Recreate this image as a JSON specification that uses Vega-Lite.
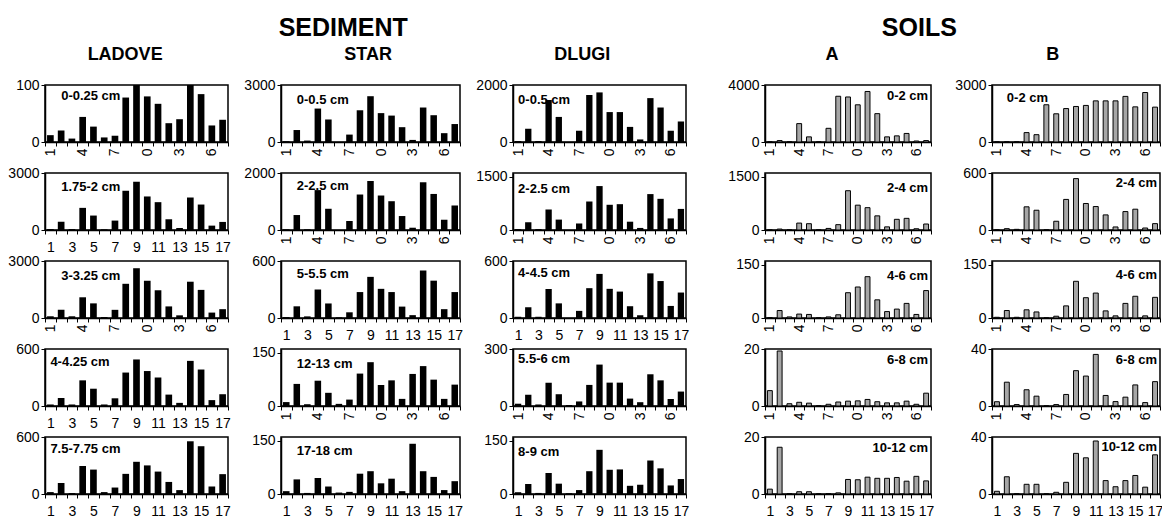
{
"$schema": "https://vega.github.io/schema/vega-lite/v6.json",
"background": "white",
"padding": {"left": 7, "top": 16, "right": 0, "bottom": 0},
"data": {"name": "bars"},
"datasets": {"bars": [
{"panel":"L1","n":1,"value":12},{"panel":"L1","n":2,"value":20},{"panel":"L1","n":3,"value":6},{"panel":"L1","n":4,"value":44},{"panel":"L1","n":5,"value":27},{"panel":"L1","n":6,"value":8},{"panel":"L1","n":7,"value":11},{"panel":"L1","n":8,"value":78},{"panel":"L1","n":9,"value":100},{"panel":"L1","n":10,"value":80},{"panel":"L1","n":11,"value":67},{"panel":"L1","n":12,"value":33},{"panel":"L1","n":13,"value":40},{"panel":"L1","n":14,"value":100},{"panel":"L1","n":15,"value":84},{"panel":"L1","n":16,"value":29},{"panel":"L1","n":17,"value":39},
{"panel":"L2","n":1,"value":50},{"panel":"L2","n":2,"value":440},{"panel":"L2","n":3,"value":50},{"panel":"L2","n":4,"value":1165},{"panel":"L2","n":5,"value":760},{"panel":"L2","n":6,"value":35},{"panel":"L2","n":7,"value":495},{"panel":"L2","n":8,"value":2065},{"panel":"L2","n":9,"value":2540},{"panel":"L2","n":10,"value":1765},{"panel":"L2","n":11,"value":1465},{"panel":"L2","n":12,"value":565},{"panel":"L2","n":13,"value":105},{"panel":"L2","n":14,"value":1710},{"panel":"L2","n":15,"value":1340},{"panel":"L2","n":16,"value":230},{"panel":"L2","n":17,"value":425},
{"panel":"L3","n":1,"value":90},{"panel":"L3","n":2,"value":430},{"panel":"L3","n":3,"value":90},{"panel":"L3","n":4,"value":1090},{"panel":"L3","n":5,"value":770},{"panel":"L3","n":6,"value":50},{"panel":"L3","n":7,"value":430},{"panel":"L3","n":8,"value":1800},{"panel":"L3","n":9,"value":2620},{"panel":"L3","n":10,"value":1960},{"panel":"L3","n":11,"value":1460},{"panel":"L3","n":12,"value":610},{"panel":"L3","n":13,"value":140},{"panel":"L3","n":14,"value":1910},{"panel":"L3","n":15,"value":1480},{"panel":"L3","n":16,"value":285},{"panel":"L3","n":17,"value":465},
{"panel":"L4","n":1,"value":16},{"panel":"L4","n":2,"value":85},{"panel":"L4","n":3,"value":16},{"panel":"L4","n":4,"value":270},{"panel":"L4","n":5,"value":182},{"panel":"L4","n":6,"value":16},{"panel":"L4","n":7,"value":81},{"panel":"L4","n":8,"value":352},{"panel":"L4","n":9,"value":490},{"panel":"L4","n":10,"value":368},{"panel":"L4","n":11,"value":300},{"panel":"L4","n":12,"value":120},{"panel":"L4","n":13,"value":33},{"panel":"L4","n":14,"value":475},{"panel":"L4","n":15,"value":384},{"panel":"L4","n":16,"value":62},{"panel":"L4","n":17,"value":124},
{"panel":"L5","n":1,"value":20},{"panel":"L5","n":2,"value":116},{"panel":"L5","n":3,"value":10},{"panel":"L5","n":4,"value":295},{"panel":"L5","n":5,"value":257},{"panel":"L5","n":6,"value":20},{"panel":"L5","n":7,"value":68},{"panel":"L5","n":8,"value":212},{"panel":"L5","n":9,"value":339},{"panel":"L5","n":10,"value":301},{"panel":"L5","n":11,"value":236},{"panel":"L5","n":12,"value":127},{"panel":"L5","n":13,"value":41},{"panel":"L5","n":14,"value":555},{"panel":"L5","n":15,"value":503},{"panel":"L5","n":16,"value":79},{"panel":"L5","n":17,"value":209},
{"panel":"S1","n":1,"value":40},{"panel":"S1","n":2,"value":630},{"panel":"S1","n":3,"value":75},{"panel":"S1","n":4,"value":1760},{"panel":"S1","n":5,"value":1185},{"panel":"S1","n":6,"value":0},{"panel":"S1","n":7,"value":390},{"panel":"S1","n":8,"value":1670},{"panel":"S1","n":9,"value":2410},{"panel":"S1","n":10,"value":1520},{"panel":"S1","n":11,"value":1390},{"panel":"S1","n":12,"value":780},{"panel":"S1","n":13,"value":110},{"panel":"S1","n":14,"value":1815},{"panel":"S1","n":15,"value":1410},{"panel":"S1","n":16,"value":465},{"panel":"S1","n":17,"value":945},
{"panel":"S2","n":1,"value":25},{"panel":"S2","n":2,"value":525},{"panel":"S2","n":3,"value":25},{"panel":"S2","n":4,"value":1400},{"panel":"S2","n":5,"value":745},{"panel":"S2","n":6,"value":0},{"panel":"S2","n":7,"value":315},{"panel":"S2","n":8,"value":1245},{"panel":"S2","n":9,"value":1720},{"panel":"S2","n":10,"value":1210},{"panel":"S2","n":11,"value":1010},{"panel":"S2","n":12,"value":490},{"panel":"S2","n":13,"value":80},{"panel":"S2","n":14,"value":1675},{"panel":"S2","n":15,"value":1265},{"panel":"S2","n":16,"value":360},{"panel":"S2","n":17,"value":860},
{"panel":"S3","n":1,"value":10},{"panel":"S3","n":2,"value":123},{"panel":"S3","n":3,"value":17},{"panel":"S3","n":4,"value":300},{"panel":"S3","n":5,"value":153},{"panel":"S3","n":6,"value":7},{"panel":"S3","n":7,"value":60},{"panel":"S3","n":8,"value":273},{"panel":"S3","n":9,"value":433},{"panel":"S3","n":10,"value":307},{"panel":"S3","n":11,"value":273},{"panel":"S3","n":12,"value":120},{"panel":"S3","n":13,"value":30},{"panel":"S3","n":14,"value":500},{"panel":"S3","n":15,"value":393},{"panel":"S3","n":16,"value":93},{"panel":"S3","n":17,"value":273},
{"panel":"S4","n":1,"value":11},{"panel":"S4","n":2,"value":62},{"panel":"S4","n":3,"value":5},{"panel":"S4","n":4,"value":71},{"panel":"S4","n":5,"value":37},{"panel":"S4","n":6,"value":6},{"panel":"S4","n":7,"value":18},{"panel":"S4","n":8,"value":91},{"panel":"S4","n":9,"value":123},{"panel":"S4","n":10,"value":59},{"panel":"S4","n":11,"value":72},{"panel":"S4","n":12,"value":20},{"panel":"S4","n":13,"value":90},{"panel":"S4","n":14,"value":112},{"panel":"S4","n":15,"value":74},{"panel":"S4","n":16,"value":20},{"panel":"S4","n":17,"value":60},
{"panel":"S5","n":1,"value":8},{"panel":"S5","n":2,"value":41},{"panel":"S5","n":3,"value":3},{"panel":"S5","n":4,"value":45},{"panel":"S5","n":5,"value":21},{"panel":"S5","n":6,"value":4},{"panel":"S5","n":7,"value":6},{"panel":"S5","n":8,"value":57},{"panel":"S5","n":9,"value":64},{"panel":"S5","n":10,"value":30},{"panel":"S5","n":11,"value":43},{"panel":"S5","n":12,"value":8},{"panel":"S5","n":13,"value":141},{"panel":"S5","n":14,"value":64},{"panel":"S5","n":15,"value":48},{"panel":"S5","n":16,"value":11},{"panel":"S5","n":17,"value":36},
{"panel":"D1","n":1,"value":35},{"panel":"D1","n":2,"value":465},{"panel":"D1","n":3,"value":35},{"panel":"D1","n":4,"value":1470},{"panel":"D1","n":5,"value":880},{"panel":"D1","n":6,"value":0},{"panel":"D1","n":7,"value":395},{"panel":"D1","n":8,"value":1650},{"panel":"D1","n":9,"value":1740},{"panel":"D1","n":10,"value":1050},{"panel":"D1","n":11,"value":1050},{"panel":"D1","n":12,"value":530},{"panel":"D1","n":13,"value":90},{"panel":"D1","n":14,"value":1540},{"panel":"D1","n":15,"value":1210},{"panel":"D1","n":16,"value":395},{"panel":"D1","n":17,"value":720},
{"panel":"D2","n":1,"value":25},{"panel":"D2","n":2,"value":217},{"panel":"D2","n":3,"value":25},{"panel":"D2","n":4,"value":575},{"panel":"D2","n":5,"value":292},{"panel":"D2","n":6,"value":0},{"panel":"D2","n":7,"value":183},{"panel":"D2","n":8,"value":800},{"panel":"D2","n":9,"value":1233},{"panel":"D2","n":10,"value":708},{"panel":"D2","n":11,"value":725},{"panel":"D2","n":12,"value":233},{"panel":"D2","n":13,"value":58},{"panel":"D2","n":14,"value":1008},{"panel":"D2","n":15,"value":875},{"panel":"D2","n":16,"value":325},{"panel":"D2","n":17,"value":592},
{"panel":"D3","n":1,"value":13},{"panel":"D3","n":2,"value":114},{"panel":"D3","n":3,"value":13},{"panel":"D3","n":4,"value":304},{"panel":"D3","n":5,"value":154},{"panel":"D3","n":6,"value":0},{"panel":"D3","n":7,"value":75},{"panel":"D3","n":8,"value":314},{"panel":"D3","n":9,"value":464},{"panel":"D3","n":10,"value":307},{"panel":"D3","n":11,"value":278},{"panel":"D3","n":12,"value":124},{"panel":"D3","n":13,"value":29},{"panel":"D3","n":14,"value":470},{"panel":"D3","n":15,"value":389},{"panel":"D3","n":16,"value":127},{"panel":"D3","n":17,"value":268},
{"panel":"D4","n":1,"value":12},{"panel":"D4","n":2,"value":59},{"panel":"D4","n":3,"value":8},{"panel":"D4","n":4,"value":123},{"panel":"D4","n":5,"value":62},{"panel":"D4","n":6,"value":5},{"panel":"D4","n":7,"value":24},{"panel":"D4","n":8,"value":111},{"panel":"D4","n":9,"value":218},{"panel":"D4","n":10,"value":123},{"panel":"D4","n":11,"value":123},{"panel":"D4","n":12,"value":39},{"panel":"D4","n":13,"value":20},{"panel":"D4","n":14,"value":167},{"panel":"D4","n":15,"value":135},{"panel":"D4","n":16,"value":37},{"panel":"D4","n":17,"value":76},
{"panel":"D5","n":1,"value":5},{"panel":"D5","n":2,"value":28},{"panel":"D5","n":3,"value":3},{"panel":"D5","n":4,"value":59},{"panel":"D5","n":5,"value":29},{"panel":"D5","n":6,"value":2},{"panel":"D5","n":7,"value":11},{"panel":"D5","n":8,"value":64},{"panel":"D5","n":9,"value":124},{"panel":"D5","n":10,"value":68},{"panel":"D5","n":11,"value":69},{"panel":"D5","n":12,"value":23},{"panel":"D5","n":13,"value":26},{"panel":"D5","n":14,"value":94},{"panel":"D5","n":15,"value":72},{"panel":"D5","n":16,"value":24},{"panel":"D5","n":17,"value":42},
{"panel":"A1","n":1,"value":0},{"panel":"A1","n":2,"value":100},{"panel":"A1","n":3,"value":0},{"panel":"A1","n":4,"value":1290},{"panel":"A1","n":5,"value":360},{"panel":"A1","n":6,"value":0},{"panel":"A1","n":7,"value":960},{"panel":"A1","n":8,"value":3210},{"panel":"A1","n":9,"value":3160},{"panel":"A1","n":10,"value":2610},{"panel":"A1","n":11,"value":3545},{"panel":"A1","n":12,"value":1990},{"panel":"A1","n":13,"value":360},{"panel":"A1","n":14,"value":430},{"panel":"A1","n":15,"value":600},{"panel":"A1","n":16,"value":70},{"panel":"A1","n":17,"value":100},
{"panel":"A2","n":1,"value":0},{"panel":"A2","n":2,"value":26},{"panel":"A2","n":3,"value":0},{"panel":"A2","n":4,"value":194},{"panel":"A2","n":5,"value":177},{"panel":"A2","n":6,"value":0},{"panel":"A2","n":7,"value":44},{"panel":"A2","n":8,"value":150},{"panel":"A2","n":9,"value":1103},{"panel":"A2","n":10,"value":697},{"panel":"A2","n":11,"value":627},{"panel":"A2","n":12,"value":397},{"panel":"A2","n":13,"value":88},{"panel":"A2","n":14,"value":300},{"panel":"A2","n":15,"value":327},{"panel":"A2","n":16,"value":35},{"panel":"A2","n":17,"value":168},
{"panel":"A3","n":1,"value":1},{"panel":"A3","n":2,"value":21},{"panel":"A3","n":3,"value":3},{"panel":"A3","n":4,"value":11},{"panel":"A3","n":5,"value":10},{"panel":"A3","n":6,"value":0},{"panel":"A3","n":7,"value":3},{"panel":"A3","n":8,"value":9},{"panel":"A3","n":9,"value":71},{"panel":"A3","n":10,"value":87},{"panel":"A3","n":11,"value":116},{"panel":"A3","n":12,"value":51},{"panel":"A3","n":13,"value":18},{"panel":"A3","n":14,"value":25},{"panel":"A3","n":15,"value":41},{"panel":"A3","n":16,"value":10},{"panel":"A3","n":17,"value":77},
{"panel":"A4","n":1,"value":5.4},{"panel":"A4","n":2,"value":19.3},{"panel":"A4","n":3,"value":0.8},{"panel":"A4","n":4,"value":1.3},{"panel":"A4","n":5,"value":1},{"panel":"A4","n":6,"value":0},{"panel":"A4","n":7,"value":0.6},{"panel":"A4","n":8,"value":1.4},{"panel":"A4","n":9,"value":1.7},{"panel":"A4","n":10,"value":1.8},{"panel":"A4","n":11,"value":2.3},{"panel":"A4","n":12,"value":1.5},{"panel":"A4","n":13,"value":1.1},{"panel":"A4","n":14,"value":1.1},{"panel":"A4","n":15,"value":1.7},{"panel":"A4","n":16,"value":0.6},{"panel":"A4","n":17,"value":4.5},
{"panel":"A5","n":1,"value":1.7},{"panel":"A5","n":2,"value":16.4},{"panel":"A5","n":3,"value":0.1},{"panel":"A5","n":4,"value":0.8},{"panel":"A5","n":5,"value":0.8},{"panel":"A5","n":6,"value":0},{"panel":"A5","n":7,"value":0.1},{"panel":"A5","n":8,"value":0.4},{"panel":"A5","n":9,"value":5.1},{"panel":"A5","n":10,"value":5},{"panel":"A5","n":11,"value":5.9},{"panel":"A5","n":12,"value":5.5},{"panel":"A5","n":13,"value":5.5},{"panel":"A5","n":14,"value":5.8},{"panel":"A5","n":15,"value":4.5},{"panel":"A5","n":16,"value":6.2},{"panel":"A5","n":17,"value":4.6},
{"panel":"B1","n":1,"value":0},{"panel":"B1","n":2,"value":0},{"panel":"B1","n":3,"value":0},{"panel":"B1","n":4,"value":495},{"panel":"B1","n":5,"value":385},{"panel":"B1","n":6,"value":1960},{"panel":"B1","n":7,"value":1485},{"panel":"B1","n":8,"value":1760},{"panel":"B1","n":9,"value":1870},{"panel":"B1","n":10,"value":1925},{"panel":"B1","n":11,"value":2165},{"panel":"B1","n":12,"value":2165},{"panel":"B1","n":13,"value":2165},{"panel":"B1","n":14,"value":2400},{"panel":"B1","n":15,"value":1850},{"panel":"B1","n":16,"value":2605},{"panel":"B1","n":17,"value":1835},
{"panel":"B2","n":1,"value":0},{"panel":"B2","n":2,"value":14},{"panel":"B2","n":3,"value":7},{"panel":"B2","n":4,"value":244},{"panel":"B2","n":5,"value":208},{"panel":"B2","n":6,"value":0},{"panel":"B2","n":7,"value":92},{"panel":"B2","n":8,"value":322},{"panel":"B2","n":9,"value":541},{"panel":"B2","n":10,"value":279},{"panel":"B2","n":11,"value":247},{"panel":"B2","n":12,"value":159},{"panel":"B2","n":13,"value":32},{"panel":"B2","n":14,"value":194},{"panel":"B2","n":15,"value":219},{"panel":"B2","n":16,"value":21},{"panel":"B2","n":17,"value":67},
{"panel":"B3","n":1,"value":2},{"panel":"B3","n":2,"value":21},{"panel":"B3","n":3,"value":2},{"panel":"B3","n":4,"value":23},{"panel":"B3","n":5,"value":17},{"panel":"B3","n":6,"value":0},{"panel":"B3","n":7,"value":5},{"panel":"B3","n":8,"value":34},{"panel":"B3","n":9,"value":103},{"panel":"B3","n":10,"value":57},{"panel":"B3","n":11,"value":70},{"panel":"B3","n":12,"value":20},{"panel":"B3","n":13,"value":6},{"panel":"B3","n":14,"value":41},{"panel":"B3","n":15,"value":61},{"panel":"B3","n":16,"value":6},{"panel":"B3","n":17,"value":58},
{"panel":"B4","n":1,"value":3},{"panel":"B4","n":2,"value":16.7},{"panel":"B4","n":3,"value":1},{"panel":"B4","n":4,"value":11.4},{"panel":"B4","n":5,"value":6.9},{"panel":"B4","n":6,"value":0},{"panel":"B4","n":7,"value":1},{"panel":"B4","n":8,"value":8.1},{"panel":"B4","n":9,"value":24.8},{"panel":"B4","n":10,"value":21},{"panel":"B4","n":11,"value":36.2},{"panel":"B4","n":12,"value":7.4},{"panel":"B4","n":13,"value":3.1},{"panel":"B4","n":14,"value":6.2},{"panel":"B4","n":15,"value":14.8},{"panel":"B4","n":16,"value":2.4},{"panel":"B4","n":17,"value":17.1},
{"panel":"B5","n":1,"value":1.9},{"panel":"B5","n":2,"value":12.1},{"panel":"B5","n":3,"value":0.2},{"panel":"B5","n":4,"value":6.8},{"panel":"B5","n":5,"value":6.8},{"panel":"B5","n":6,"value":0},{"panel":"B5","n":7,"value":1.2},{"panel":"B5","n":8,"value":8.2},{"panel":"B5","n":9,"value":28.5},{"panel":"B5","n":10,"value":25.4},{"panel":"B5","n":11,"value":37.2},{"panel":"B5","n":12,"value":9.4},{"panel":"B5","n":13,"value":5.1},{"panel":"B5","n":14,"value":9.4},{"panel":"B5","n":15,"value":13},{"panel":"B5","n":16,"value":4.8},{"panel":"B5","n":17,"value":27.5}
]},
"spacing": 37,
"hconcat": [
{"title": {"text": "SEDIMENT", "fontSize": 25, "fontWeight": "bold", "anchor": "middle", "offset": 5, "dx": -5, "color": "black"},
 "spacing": 11,
 "hconcat": [
 {"title": {"text": "LADOVE", "fontSize": 18, "fontWeight": "bold", "anchor": "middle", "offset": 13, "dx": 6, "color": "black"},
  "bounds": "flush",
  "spacing": 31,
  "vconcat": [
   {"width": 183, "height": 57, "transform": [{"filter": "datum.panel == 'L1'"}], "layer": [
     {"mark": {"type": "bar", "fill": "black", "width": {"band": 0.62}}, "encoding": {
       "x": {"field": "n", "type": "ordinal", "title": null, "axis": {"tickBand": "extent", "labelAngle": -90, "labelPadding": 2, "labelExpr": "indexof([1,4,7,10,13,16], datum.value) >= 0 ? slice(datum.label, -1) : ''"}},
       "y": {"field": "value", "type": "quantitative", "title": null, "scale": {"domain": [0, 100]}, "axis": {"values": [0, 50, 100]}}}},
     {"transform": [{"filter": "datum.n == 1"}], "mark": {"type": "text", "align": "left", "baseline": "middle", "fontWeight": "bold", "fontSize": 13, "text": "0-0.25 cm"},
      "encoding": {"x": {"datum": 2, "type": "ordinal", "title": null}, "y": {"datum": 80, "type": "quantitative", "title": null}}}]},
   {"width": 183, "height": 57, "transform": [{"filter": "datum.panel == 'L2'"}], "layer": [
     {"mark": {"type": "bar", "fill": "black", "width": {"band": 0.62}}, "encoding": {
       "x": {"field": "n", "type": "ordinal", "title": null, "axis": {"tickBand": "extent", "labelAngle": 0, "labelPadding": 6, "labelExpr": "datum.value % 2 == 1 ? datum.label : ''"}},
       "y": {"field": "value", "type": "quantitative", "title": null, "scale": {"domain": [0, 3000]}, "axis": {"values": [0, 1000, 2000, 3000]}}}},
     {"transform": [{"filter": "datum.n == 1"}], "mark": {"type": "text", "align": "left", "baseline": "middle", "fontWeight": "bold", "fontSize": 13, "text": "1.75-2 cm"},
      "encoding": {"x": {"datum": 2, "type": "ordinal", "title": null}, "y": {"datum": 2250, "type": "quantitative", "title": null}}}]},
   {"width": 183, "height": 57, "transform": [{"filter": "datum.panel == 'L3'"}], "layer": [
     {"mark": {"type": "bar", "fill": "black", "width": {"band": 0.62}}, "encoding": {
       "x": {"field": "n", "type": "ordinal", "title": null, "axis": {"tickBand": "extent", "labelAngle": -90, "labelPadding": 2, "labelExpr": "indexof([1,4,7,10,13,16], datum.value) >= 0 ? slice(datum.label, -1) : ''"}},
       "y": {"field": "value", "type": "quantitative", "title": null, "scale": {"domain": [0, 3000]}, "axis": {"values": [0, 1000, 2000, 3000]}}}},
     {"transform": [{"filter": "datum.n == 1"}], "mark": {"type": "text", "align": "left", "baseline": "middle", "fontWeight": "bold", "fontSize": 13, "text": "3-3.25 cm"},
      "encoding": {"x": {"datum": 2, "type": "ordinal", "title": null}, "y": {"datum": 2200, "type": "quantitative", "title": null}}}]},
   {"width": 183, "height": 57, "transform": [{"filter": "datum.panel == 'L4'"}], "layer": [
     {"mark": {"type": "bar", "fill": "black", "width": {"band": 0.62}}, "encoding": {
       "x": {"field": "n", "type": "ordinal", "title": null, "axis": {"tickBand": "extent", "labelAngle": 0, "labelPadding": 6, "labelExpr": "datum.value % 2 == 1 ? datum.label : ''"}},
       "y": {"field": "value", "type": "quantitative", "title": null, "scale": {"domain": [0, 600]}, "axis": {"values": [0, 200, 400, 600]}}}},
     {"transform": [{"filter": "datum.n == 1"}], "mark": {"type": "text", "align": "left", "baseline": "middle", "fontWeight": "bold", "fontSize": 13, "text": "4-4.25 cm"},
      "encoding": {"x": {"datum": 1, "type": "ordinal", "title": null}, "y": {"datum": 460, "type": "quantitative", "title": null}}}]},
   {"width": 183, "height": 57, "transform": [{"filter": "datum.panel == 'L5'"}], "layer": [
     {"mark": {"type": "bar", "fill": "black", "width": {"band": 0.62}}, "encoding": {
       "x": {"field": "n", "type": "ordinal", "title": null, "axis": {"tickBand": "extent", "labelAngle": 0, "labelPadding": 6, "labelExpr": "datum.value % 2 == 1 ? datum.label : ''"}},
       "y": {"field": "value", "type": "quantitative", "title": null, "scale": {"domain": [0, 600]}, "axis": {"values": [0, 200, 400, 600]}}}},
     {"transform": [{"filter": "datum.n == 1"}], "mark": {"type": "text", "align": "left", "baseline": "middle", "fontWeight": "bold", "fontSize": 13, "text": "7.5-7.75 cm"},
      "encoding": {"x": {"datum": 1, "type": "ordinal", "title": null}, "y": {"datum": 475, "type": "quantitative", "title": null}}}]}
  ]},
 {"title": {"text": "STAR", "fontSize": 18, "fontWeight": "bold", "anchor": "middle", "offset": 13, "dx": 15, "color": "black"},
  "bounds": "flush",
  "spacing": 31,
  "vconcat": [
   {"width": 179, "height": 57, "transform": [{"filter": "datum.panel == 'S1'"}], "layer": [
     {"mark": {"type": "bar", "fill": "black", "width": {"band": 0.62}}, "encoding": {
       "x": {"field": "n", "type": "ordinal", "title": null, "axis": {"tickBand": "extent", "labelAngle": -90, "labelPadding": 2, "labelExpr": "indexof([1,4,7,10,13,16], datum.value) >= 0 ? slice(datum.label, -1) : ''"}},
       "y": {"field": "value", "type": "quantitative", "title": null, "scale": {"domain": [0, 3000]}, "axis": {"values": [0, 1000, 2000, 3000]}}}},
     {"transform": [{"filter": "datum.n == 1"}], "mark": {"type": "text", "align": "left", "baseline": "middle", "fontWeight": "bold", "fontSize": 13, "text": "0-0.5 cm"},
      "encoding": {"x": {"datum": 2, "type": "ordinal", "title": null}, "y": {"datum": 2200, "type": "quantitative", "title": null}}}]},
   {"width": 179, "height": 57, "transform": [{"filter": "datum.panel == 'S2'"}], "layer": [
     {"mark": {"type": "bar", "fill": "black", "width": {"band": 0.62}}, "encoding": {
       "x": {"field": "n", "type": "ordinal", "title": null, "axis": {"tickBand": "extent", "labelAngle": -90, "labelPadding": 2, "labelExpr": "indexof([1,4,7,10,13,16], datum.value) >= 0 ? slice(datum.label, -1) : ''"}},
       "y": {"field": "value", "type": "quantitative", "title": null, "scale": {"domain": [0, 2000]}, "axis": {"values": [0, 1000, 2000]}}}},
     {"transform": [{"filter": "datum.n == 1"}], "mark": {"type": "text", "align": "left", "baseline": "middle", "fontWeight": "bold", "fontSize": 13, "text": "2-2.5 cm"},
      "encoding": {"x": {"datum": 2, "type": "ordinal", "title": null}, "y": {"datum": 1550, "type": "quantitative", "title": null}}}]},
   {"width": 179, "height": 57, "transform": [{"filter": "datum.panel == 'S3'"}], "layer": [
     {"mark": {"type": "bar", "fill": "black", "width": {"band": 0.62}}, "encoding": {
       "x": {"field": "n", "type": "ordinal", "title": null, "axis": {"tickBand": "extent", "labelAngle": 0, "labelPadding": 6, "labelExpr": "datum.value % 2 == 1 ? datum.label : ''"}},
       "y": {"field": "value", "type": "quantitative", "title": null, "scale": {"domain": [0, 600]}, "axis": {"values": [0, 200, 400, 600]}}}},
     {"transform": [{"filter": "datum.n == 1"}], "mark": {"type": "text", "align": "left", "baseline": "middle", "fontWeight": "bold", "fontSize": 13, "text": "5-5.5 cm"},
      "encoding": {"x": {"datum": 2, "type": "ordinal", "title": null}, "y": {"datum": 460, "type": "quantitative", "title": null}}}]},
   {"width": 179, "height": 57, "transform": [{"filter": "datum.panel == 'S4'"}], "layer": [
     {"mark": {"type": "bar", "fill": "black", "width": {"band": 0.62}}, "encoding": {
       "x": {"field": "n", "type": "ordinal", "title": null, "axis": {"tickBand": "extent", "labelAngle": -90, "labelPadding": 2, "labelExpr": "indexof([1,4,7,10,13,16], datum.value) >= 0 ? slice(datum.label, -1) : ''"}},
       "y": {"field": "value", "type": "quantitative", "title": null, "scale": {"domain": [0, 150]}, "axis": {"values": [0, 50, 100, 150]}}}},
     {"transform": [{"filter": "datum.n == 1"}], "mark": {"type": "text", "align": "left", "baseline": "middle", "fontWeight": "bold", "fontSize": 13, "text": "12-13 cm"},
      "encoding": {"x": {"datum": 2, "type": "ordinal", "title": null}, "y": {"datum": 118, "type": "quantitative", "title": null}}}]},
   {"width": 179, "height": 57, "transform": [{"filter": "datum.panel == 'S5'"}], "layer": [
     {"mark": {"type": "bar", "fill": "black", "width": {"band": 0.62}}, "encoding": {
       "x": {"field": "n", "type": "ordinal", "title": null, "axis": {"tickBand": "extent", "labelAngle": 0, "labelPadding": 6, "labelExpr": "datum.value % 2 == 1 ? datum.label : ''"}},
       "y": {"field": "value", "type": "quantitative", "title": null, "scale": {"domain": [0, 150]}, "axis": {"values": [0, 50, 100, 150]}}}},
     {"transform": [{"filter": "datum.n == 1"}], "mark": {"type": "text", "align": "left", "baseline": "middle", "fontWeight": "bold", "fontSize": 13, "text": "17-18 cm"},
      "encoding": {"x": {"datum": 2, "type": "ordinal", "title": null}, "y": {"datum": 122, "type": "quantitative", "title": null}}}]}
  ]},
 {"title": {"text": "DLUGI", "fontSize": 18, "fontWeight": "bold", "anchor": "middle", "offset": 13, "dx": 0, "color": "black"},
  "bounds": "flush",
  "spacing": 31,
  "vconcat": [
   {"width": 173, "height": 57, "transform": [{"filter": "datum.panel == 'D1'"}], "layer": [
     {"mark": {"type": "bar", "fill": "black", "width": {"band": 0.62}}, "encoding": {
       "x": {"field": "n", "type": "ordinal", "title": null, "axis": {"tickBand": "extent", "labelAngle": -90, "labelPadding": 2, "labelExpr": "indexof([1,4,7,10,13,16], datum.value) >= 0 ? slice(datum.label, -1) : ''"}},
       "y": {"field": "value", "type": "quantitative", "title": null, "scale": {"domain": [0, 2000]}, "axis": {"values": [0, 1000, 2000]}}}},
     {"transform": [{"filter": "datum.n == 1"}], "mark": {"type": "text", "align": "left", "baseline": "middle", "fontWeight": "bold", "fontSize": 13, "text": "0-0.5 cm"},
      "encoding": {"x": {"datum": 1, "type": "ordinal", "title": null}, "y": {"datum": 1470, "type": "quantitative", "title": null}}}]},
   {"width": 173, "height": 57, "transform": [{"filter": "datum.panel == 'D2'"}], "layer": [
     {"mark": {"type": "bar", "fill": "black", "width": {"band": 0.62}}, "encoding": {
       "x": {"field": "n", "type": "ordinal", "title": null, "axis": {"tickBand": "extent", "labelAngle": -90, "labelPadding": 2, "labelExpr": "indexof([1,4,7,10,13,16], datum.value) >= 0 ? slice(datum.label, -1) : ''"}},
       "y": {"field": "value", "type": "quantitative", "title": null, "scale": {"domain": [0, 1500]}, "axis": {"values": [0, 500, 1000, 1500]}}}},
     {"transform": [{"filter": "datum.n == 1"}], "mark": {"type": "text", "align": "left", "baseline": "middle", "fontWeight": "bold", "fontSize": 13, "text": "2-2.5 cm"},
      "encoding": {"x": {"datum": 1, "type": "ordinal", "title": null}, "y": {"datum": 1150, "type": "quantitative", "title": null}}}]},
   {"width": 173, "height": 57, "transform": [{"filter": "datum.panel == 'D3'"}], "layer": [
     {"mark": {"type": "bar", "fill": "black", "width": {"band": 0.62}}, "encoding": {
       "x": {"field": "n", "type": "ordinal", "title": null, "axis": {"tickBand": "extent", "labelAngle": 0, "labelPadding": 6, "labelExpr": "datum.value % 2 == 1 ? datum.label : ''"}},
       "y": {"field": "value", "type": "quantitative", "title": null, "scale": {"domain": [0, 600]}, "axis": {"values": [0, 200, 400, 600]}}}},
     {"transform": [{"filter": "datum.n == 1"}], "mark": {"type": "text", "align": "left", "baseline": "middle", "fontWeight": "bold", "fontSize": 13, "text": "4-4.5 cm"},
      "encoding": {"x": {"datum": 1, "type": "ordinal", "title": null}, "y": {"datum": 470, "type": "quantitative", "title": null}}}]},
   {"width": 173, "height": 57, "transform": [{"filter": "datum.panel == 'D4'"}], "layer": [
     {"mark": {"type": "bar", "fill": "black", "width": {"band": 0.62}}, "encoding": {
       "x": {"field": "n", "type": "ordinal", "title": null, "axis": {"tickBand": "extent", "labelAngle": -90, "labelPadding": 2, "labelExpr": "indexof([1,4,7,10,13,16], datum.value) >= 0 ? slice(datum.label, -1) : ''"}},
       "y": {"field": "value", "type": "quantitative", "title": null, "scale": {"domain": [0, 300]}, "axis": {"values": [0, 100, 200, 300]}}}},
     {"transform": [{"filter": "datum.n == 1"}], "mark": {"type": "text", "align": "left", "baseline": "middle", "fontWeight": "bold", "fontSize": 13, "text": "5.5-6 cm"},
      "encoding": {"x": {"datum": 1, "type": "ordinal", "title": null}, "y": {"datum": 250, "type": "quantitative", "title": null}}}]},
   {"width": 173, "height": 57, "transform": [{"filter": "datum.panel == 'D5'"}], "layer": [
     {"mark": {"type": "bar", "fill": "black", "width": {"band": 0.62}}, "encoding": {
       "x": {"field": "n", "type": "ordinal", "title": null, "axis": {"tickBand": "extent", "labelAngle": 0, "labelPadding": 6, "labelExpr": "datum.value % 2 == 1 ? datum.label : ''"}},
       "y": {"field": "value", "type": "quantitative", "title": null, "scale": {"domain": [0, 150]}, "axis": {"values": [0, 50, 100, 150]}}}},
     {"transform": [{"filter": "datum.n == 1"}], "mark": {"type": "text", "align": "left", "baseline": "middle", "fontWeight": "bold", "fontSize": 13, "text": "8-9 cm"},
      "encoding": {"x": {"datum": 1, "type": "ordinal", "title": null}, "y": {"datum": 118, "type": "quantitative", "title": null}}}]}
  ]}
 ]},
{"title": {"text": "SOILS", "fontSize": 25, "fontWeight": "bold", "anchor": "middle", "offset": 5, "dx": -26, "color": "black"},
 "spacing": 19,
 "hconcat": [
 {"title": {"text": "A", "fontSize": 18, "fontWeight": "bold", "anchor": "middle", "offset": 13, "dx": 1, "color": "black"},
  "bounds": "flush",
  "spacing": 31,
  "vconcat": [
   {"width": 166, "height": 57, "transform": [{"filter": "datum.panel == 'A1'"}], "layer": [
     {"mark": {"type": "bar", "fill": "#a6a6a6", "stroke": "black", "strokeWidth": 1, "width": {"band": 0.5}}, "encoding": {
       "x": {"field": "n", "type": "ordinal", "title": null, "axis": {"tickBand": "extent", "labelAngle": -90, "labelPadding": 2, "labelExpr": "indexof([1,4,7,10,13,16], datum.value) >= 0 ? slice(datum.label, -1) : ''"}},
       "y": {"field": "value", "type": "quantitative", "title": null, "scale": {"domain": [0, 4000]}, "axis": {"values": [0, 2000, 4000]}}}},
     {"transform": [{"filter": "datum.n == 1"}], "mark": {"type": "text", "align": "right", "dx": 2, "baseline": "middle", "fontWeight": "bold", "fontSize": 13, "text": "0-2 cm"},
      "encoding": {"x": {"datum": 17, "type": "ordinal", "title": null}, "y": {"datum": 3200, "type": "quantitative", "title": null}}}]},
   {"width": 166, "height": 57, "transform": [{"filter": "datum.panel == 'A2'"}], "layer": [
     {"mark": {"type": "bar", "fill": "#a6a6a6", "stroke": "black", "strokeWidth": 1, "width": {"band": 0.5}}, "encoding": {
       "x": {"field": "n", "type": "ordinal", "title": null, "axis": {"tickBand": "extent", "labelAngle": -90, "labelPadding": 2, "labelExpr": "indexof([1,4,7,10,13,16], datum.value) >= 0 ? slice(datum.label, -1) : ''"}},
       "y": {"field": "value", "type": "quantitative", "title": null, "scale": {"domain": [0, 1500]}, "axis": {"values": [0, 500, 1000, 1500]}}}},
     {"transform": [{"filter": "datum.n == 1"}], "mark": {"type": "text", "align": "right", "dx": 2, "baseline": "middle", "fontWeight": "bold", "fontSize": 13, "text": "2-4 cm"},
      "encoding": {"x": {"datum": 17, "type": "ordinal", "title": null}, "y": {"datum": 1180, "type": "quantitative", "title": null}}}]},
   {"width": 166, "height": 57, "transform": [{"filter": "datum.panel == 'A3'"}], "layer": [
     {"mark": {"type": "bar", "fill": "#a6a6a6", "stroke": "black", "strokeWidth": 1, "width": {"band": 0.5}}, "encoding": {
       "x": {"field": "n", "type": "ordinal", "title": null, "axis": {"tickBand": "extent", "labelAngle": -90, "labelPadding": 2, "labelExpr": "indexof([1,4,7,10,13,16], datum.value) >= 0 ? slice(datum.label, -1) : ''"}},
       "y": {"field": "value", "type": "quantitative", "title": null, "scale": {"domain": [0, 150]}, "axis": {"values": [0, 50, 100, 150]}}}},
     {"transform": [{"filter": "datum.n == 1"}], "mark": {"type": "text", "align": "right", "dx": 2, "baseline": "middle", "fontWeight": "bold", "fontSize": 13, "text": "4-6 cm"},
      "encoding": {"x": {"datum": 17, "type": "ordinal", "title": null}, "y": {"datum": 118, "type": "quantitative", "title": null}}}]},
   {"width": 166, "height": 57, "transform": [{"filter": "datum.panel == 'A4'"}], "layer": [
     {"mark": {"type": "bar", "fill": "#a6a6a6", "stroke": "black", "strokeWidth": 1, "width": {"band": 0.5}}, "encoding": {
       "x": {"field": "n", "type": "ordinal", "title": null, "axis": {"tickBand": "extent", "labelAngle": -90, "labelPadding": 2, "labelExpr": "indexof([1,4,7,10,13,16], datum.value) >= 0 ? slice(datum.label, -1) : ''"}},
       "y": {"field": "value", "type": "quantitative", "title": null, "scale": {"domain": [0, 20]}, "axis": {"values": [0, 10, 20]}}}},
     {"transform": [{"filter": "datum.n == 1"}], "mark": {"type": "text", "align": "right", "dx": 2, "baseline": "middle", "fontWeight": "bold", "fontSize": 13, "text": "6-8 cm"},
      "encoding": {"x": {"datum": 17, "type": "ordinal", "title": null}, "y": {"datum": 16, "type": "quantitative", "title": null}}}]},
   {"width": 166, "height": 57, "transform": [{"filter": "datum.panel == 'A5'"}], "layer": [
     {"mark": {"type": "bar", "fill": "#a6a6a6", "stroke": "black", "strokeWidth": 1, "width": {"band": 0.5}}, "encoding": {
       "x": {"field": "n", "type": "ordinal", "title": null, "axis": {"tickBand": "extent", "labelAngle": 0, "labelPadding": 6, "labelExpr": "datum.value % 2 == 1 ? datum.label : ''"}},
       "y": {"field": "value", "type": "quantitative", "title": null, "scale": {"domain": [0, 20]}, "axis": {"values": [0, 10, 20]}}}},
     {"transform": [{"filter": "datum.n == 1"}], "mark": {"type": "text", "align": "right", "dx": 2, "baseline": "middle", "fontWeight": "bold", "fontSize": 13, "text": "10-12 cm"},
      "encoding": {"x": {"datum": 17, "type": "ordinal", "title": null}, "y": {"datum": 16, "type": "quantitative", "title": null}}}]}
  ]},
 {"title": {"text": "B", "fontSize": 18, "fontWeight": "bold", "anchor": "middle", "offset": 13, "dx": -6, "color": "black"},
  "bounds": "flush",
  "spacing": 31,
  "vconcat": [
   {"width": 168, "height": 57, "transform": [{"filter": "datum.panel == 'B1'"}], "layer": [
     {"mark": {"type": "bar", "fill": "#a6a6a6", "stroke": "black", "strokeWidth": 1, "width": {"band": 0.5}}, "encoding": {
       "x": {"field": "n", "type": "ordinal", "title": null, "axis": {"tickBand": "extent", "labelAngle": -90, "labelPadding": 2, "labelExpr": "indexof([1,4,7,10,13,16], datum.value) >= 0 ? slice(datum.label, -1) : ''"}},
       "y": {"field": "value", "type": "quantitative", "title": null, "scale": {"domain": [0, 3000]}, "axis": {"values": [0, 1000, 2000, 3000]}}}},
     {"transform": [{"filter": "datum.n == 1"}], "mark": {"type": "text", "align": "left", "baseline": "middle", "fontWeight": "bold", "fontSize": 13, "text": "0-2 cm"},
      "encoding": {"x": {"datum": 2, "type": "ordinal", "title": null}, "y": {"datum": 2300, "type": "quantitative", "title": null}}}]},
   {"width": 168, "height": 57, "transform": [{"filter": "datum.panel == 'B2'"}], "layer": [
     {"mark": {"type": "bar", "fill": "#a6a6a6", "stroke": "black", "strokeWidth": 1, "width": {"band": 0.5}}, "encoding": {
       "x": {"field": "n", "type": "ordinal", "title": null, "axis": {"tickBand": "extent", "labelAngle": -90, "labelPadding": 2, "labelExpr": "indexof([1,4,7,10,13,16], datum.value) >= 0 ? slice(datum.label, -1) : ''"}},
       "y": {"field": "value", "type": "quantitative", "title": null, "scale": {"domain": [0, 600]}, "axis": {"values": [0, 200, 400, 600]}}}},
     {"transform": [{"filter": "datum.n == 1"}], "mark": {"type": "text", "align": "right", "dx": 2, "baseline": "middle", "fontWeight": "bold", "fontSize": 13, "text": "2-4 cm"},
      "encoding": {"x": {"datum": 17, "type": "ordinal", "title": null}, "y": {"datum": 490, "type": "quantitative", "title": null}}}]},
   {"width": 168, "height": 57, "transform": [{"filter": "datum.panel == 'B3'"}], "layer": [
     {"mark": {"type": "bar", "fill": "#a6a6a6", "stroke": "black", "strokeWidth": 1, "width": {"band": 0.5}}, "encoding": {
       "x": {"field": "n", "type": "ordinal", "title": null, "axis": {"tickBand": "extent", "labelAngle": -90, "labelPadding": 2, "labelExpr": "indexof([1,4,7,10,13,16], datum.value) >= 0 ? slice(datum.label, -1) : ''"}},
       "y": {"field": "value", "type": "quantitative", "title": null, "scale": {"domain": [0, 150]}, "axis": {"values": [0, 50, 100, 150]}}}},
     {"transform": [{"filter": "datum.n == 1"}], "mark": {"type": "text", "align": "right", "dx": 2, "baseline": "middle", "fontWeight": "bold", "fontSize": 13, "text": "4-6 cm"},
      "encoding": {"x": {"datum": 17, "type": "ordinal", "title": null}, "y": {"datum": 120, "type": "quantitative", "title": null}}}]},
   {"width": 168, "height": 57, "transform": [{"filter": "datum.panel == 'B4'"}], "layer": [
     {"mark": {"type": "bar", "fill": "#a6a6a6", "stroke": "black", "strokeWidth": 1, "width": {"band": 0.5}}, "encoding": {
       "x": {"field": "n", "type": "ordinal", "title": null, "axis": {"tickBand": "extent", "labelAngle": -90, "labelPadding": 2, "labelExpr": "indexof([1,4,7,10,13,16], datum.value) >= 0 ? slice(datum.label, -1) : ''"}},
       "y": {"field": "value", "type": "quantitative", "title": null, "scale": {"domain": [0, 40]}, "axis": {"values": [0, 20, 40]}}}},
     {"transform": [{"filter": "datum.n == 1"}], "mark": {"type": "text", "align": "right", "dx": 2, "baseline": "middle", "fontWeight": "bold", "fontSize": 13, "text": "6-8 cm"},
      "encoding": {"x": {"datum": 17, "type": "ordinal", "title": null}, "y": {"datum": 32, "type": "quantitative", "title": null}}}]},
   {"width": 168, "height": 57, "transform": [{"filter": "datum.panel == 'B5'"}], "layer": [
     {"mark": {"type": "bar", "fill": "#a6a6a6", "stroke": "black", "strokeWidth": 1, "width": {"band": 0.5}}, "encoding": {
       "x": {"field": "n", "type": "ordinal", "title": null, "axis": {"tickBand": "extent", "labelAngle": 0, "labelPadding": 6, "labelExpr": "datum.value % 2 == 1 ? datum.label : ''"}},
       "y": {"field": "value", "type": "quantitative", "title": null, "scale": {"domain": [0, 40]}, "axis": {"values": [0, 20, 40]}}}},
     {"transform": [{"filter": "datum.n == 1"}], "mark": {"type": "text", "align": "right", "dx": 2, "baseline": "middle", "fontWeight": "bold", "fontSize": 13, "text": "10-12 cm"},
      "encoding": {"x": {"datum": 17, "type": "ordinal", "title": null}, "y": {"datum": 33, "type": "quantitative", "title": null}}}]}
  ]}
 ]}
],
"config": {
  "font": "Liberation Sans",
  "numberFormat": "d",
  "view": {"stroke": "black", "strokeWidth": 1.5},
  "scale": {"bandPaddingInner": 0, "bandPaddingOuter": 0},
  "axis": {"grid": false, "labelFont": "Liberation Sans", "labelFontSize": 14, "labelColor": "black", "tickColor": "black", "domainColor": "black", "tickSize": 4, "domainWidth": 1.5, "tickWidth": 1},
  "axisX": {"labelOverlap": false},
  "axisY": {"labelPadding": 2}
}
}
